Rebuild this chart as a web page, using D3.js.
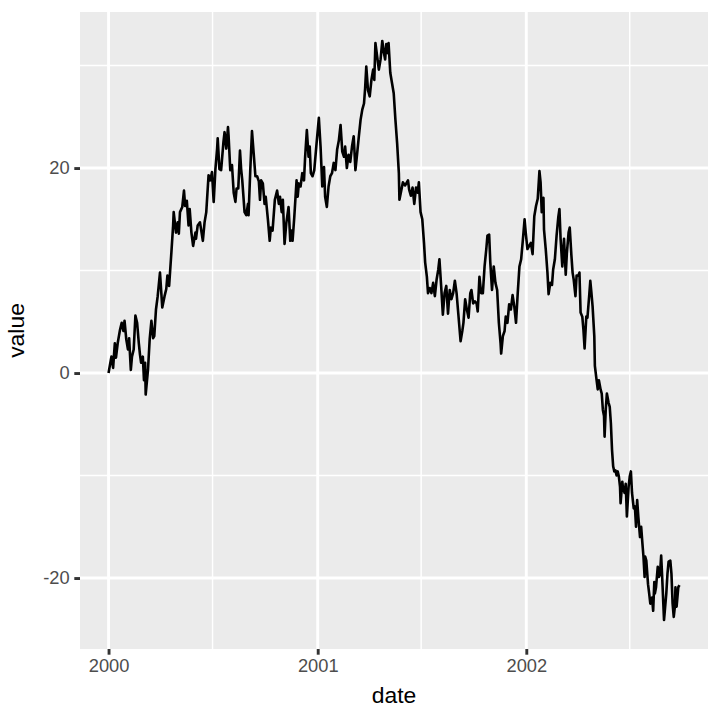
<!DOCTYPE html>
<html>
<head>
<meta charset="utf-8">
<script src="https://cdn.jsdelivr.net/npm/d3@7"></script>
<style>
  body { margin: 0; background: #ffffff; }
  text { font-family: "Liberation Sans", Arial, sans-serif; }
</style>
</head>
<body>
<div id="chart"></div>
<script>
// days since 2000-01-01
var days = [
  0, 5, 8, 11, 13, 16, 20, 23, 26, 28, 31, 34, 36, 39, 41, 44, 47, 50, 53, 55,
  57, 60, 62, 64, 65, 69, 72, 75, 78, 80, 83, 86, 90, 94, 98, 101, 103, 106, 110, 113,
  114, 118, 121, 123, 125, 129, 132, 134, 137, 140, 142, 145, 148, 152, 153, 156, 160, 165, 168, 171,
  175, 178, 181, 184, 187, 190, 191, 194, 197, 201, 203, 206, 209, 210, 213, 216, 219, 222, 224, 227,
  230, 232, 234, 238, 241, 244, 245, 248, 251, 254, 257, 260, 263, 265, 267, 270, 273, 275, 279, 282,
  284, 287, 291, 295, 298, 300, 303, 305, 308, 311, 315, 318, 320, 322, 325, 329, 331, 333, 336, 339,
  342, 344, 347, 350, 352, 354, 357, 360, 364, 368, 371, 374, 377, 379, 382, 385, 388, 391, 394, 397,
  400, 403, 406, 409, 412, 414, 417, 420, 423, 426, 429, 432, 435, 438, 441, 444, 447, 449, 451, 454,
  457, 460, 463, 465, 467, 470, 473, 476, 479, 482, 484, 486, 489, 490, 493, 496, 499, 502, 505, 508,
  509, 515, 519, 524, 526, 529, 532, 535, 538, 541, 543, 546, 549, 552, 554, 557, 559, 562, 565, 568,
  571, 574, 577, 579, 582, 585, 588, 591, 594, 597, 600, 603, 606, 609, 612, 616, 619, 621, 624, 627,
  630, 633, 635, 638, 641, 644, 646, 649, 652, 655, 658, 661, 663, 666, 668, 671, 674, 677, 680, 683,
  686, 687, 690, 693, 695, 698, 701, 704, 707, 710, 713, 716, 719, 722, 725, 728, 730, 733, 736, 739,
  742, 745, 748, 751, 754, 756, 758, 761, 762, 765, 768, 770, 773, 776, 778, 781, 784, 787, 789, 791,
  794, 797, 800, 802, 805, 807, 810, 812, 814, 817, 819, 822, 824, 826, 829, 831, 833, 836, 838, 841,
  843, 845, 847, 850, 851, 854, 856, 858, 861, 863, 865, 867, 868, 870, 872, 875, 877, 879, 881, 883,
  885, 887, 889, 891, 893, 895, 896, 899, 900, 903, 905, 907, 910, 912, 914, 916, 919, 921, 923, 925,
  927, 930, 932, 934, 936, 938, 939, 941, 944, 946, 948, 951, 953, 955, 956, 958, 961, 963, 965, 967,
  969, 972, 974, 976, 978, 980, 983, 985, 987, 989, 991, 992, 994, 997, 999
];

var values = [
  0, 1.6, 0.5, 2.9, 1.5, 2.9, 4.2, 4.9, 4.1, 5.1, 3.3, 2.3, 3.4, 0.3, 1.6, 2.3, 5.6, 4.9, 2.9, 1.8,
  1.0, 1.6, -0.7, 1.0, -2.1, 0.3, 3.3, 5.1, 3.4, 3.6, 6.2, 7.5, 9.8, 6.4, 7.5, 8.2, 9.5, 8.5, 11.8, 14.4,
  15.7, 13.7, 14.7, 13.6, 15.7, 16.2, 17.8, 16.3, 16.8, 14.4, 16, 13.7, 12.4, 13.7, 13.1, 14.4, 14.7, 12.9, 14.7, 15.7,
  19.3, 18.8, 19.6, 16.7, 19.9, 21.9, 22.9, 19.9, 19.8, 22.5, 23.5, 21.9, 24, 23.2, 19.8, 20.3, 17.6, 16.7, 18, 18,
  21.7, 19.9, 18.8, 15.7, 15.4, 16.5, 15.4, 19.8, 23.6, 21.4, 19.2, 19.2, 18.7, 16.9, 18.8, 18.5, 16.5, 17.2, 14.9, 12.9,
  14.2, 13.9, 16.9, 17.8, 16.5, 17.2, 15.7, 16.9, 12.6, 14.6, 16.2, 12.9, 13.9, 12.9, 15.2, 18.8, 17.2, 18.5, 18.2, 19.5,
  18.8, 21.1, 23.7, 21.1, 22.1, 19.5, 19.2, 19.8, 22.4, 24.9, 22.1, 18.2, 20.1, 17.2, 16.2, 18.2, 19.2, 19.5, 20.5, 19.8,
  21.8, 22.7, 24.2, 21.6, 21.1, 22.1, 20, 21.3, 20.6, 22.1, 23.1, 19.8, 21.4, 23.1, 24.7, 25.7, 26.3, 27.8, 29.9, 27.6,
  27, 28.6, 29.6, 28.6, 32.2, 30.9, 29.6, 30.6, 32.4, 31.2, 30.6, 32.1, 31.2, 32.2, 29.3, 28.3, 27.3, 24.7, 22.4, 19.5,
  16.9, 18.6, 18.3, 18.8, 17.9, 17.3, 18.1, 16.5, 18.1, 17.6, 18.6, 15.7, 15, 12.7, 10.8, 9.4, 7.8, 8.3, 7.8, 8.8,
  7.5, 9.1, 10.1, 11.1, 8.5, 5.7, 7.8, 8.5, 5.8, 8.1, 7.2, 7.8, 9, 7.8, 5.8, 3.1, 4.1, 4.9, 7.2, 6.2,
  5.4, 7.8, 8.1, 6.8, 7, 6.8, 6, 9.4, 7.8, 7.8, 10.4, 12.1, 13.4, 13.5, 10.8, 8.1, 10.4, 8.8, 8.1, 4.9,
  2.9, 1.9, 3.6, 4.1, 5.5, 4.9, 6.7, 6.2, 7.6, 6.5, 4.9, 7.8, 10.4, 11.1, 13, 15, 13.7, 12.1, 12.4, 12.7,
  11.6, 15.3, 16.3, 17, 19.7, 18.6, 15.7, 17.1, 14, 12.1, 9.8, 7.7, 8.8, 8.6, 10.1, 11.1, 13.4, 15.2, 16, 13.1,
  10.4, 13.1, 9.6, 11.7, 13.7, 14.2, 11.4, 9.8, 9.1, 7.5, 9.5, 9.5, 9.8, 5.9, 5.5, 4.2, 2.4, 5.5, 5.4, 7.5,
  9, 7.8, 6.5, 3.6, 0.7, -0.7, -1.6, -0.7, -1.6, -2, -3.6, -4.2, -6.2, -3.6, -2, -2.9, -3.3, -4.9, -7.5, -9.1,
  -9.6, -9.5, -10, -9.6, -10.1, -11.1, -12.7, -10.6, -11.1, -11.7, -10.8, -14, -11.1, -10.1, -9.6, -11.7, -13.2, -13, -15, -12.4,
  -14, -16, -15, -16.5, -17.9, -19.9, -17.9, -18.3, -20.6, -21.5, -22.5, -21.9, -23.2, -20.4, -21.5, -20.9, -18.9, -19.9, -19.6, -17.8,
  -20.2, -24.1, -22.8, -21.5, -19.6, -18.4, -18.3, -19.6, -22.5, -23.8, -22.8, -20.9, -22.8, -20.9, -20.7
];

// axis breaks
var xTickYears = [2000, 2001, 2002];
var xMinorYears = [2000, 2001, 2002];   // 1 July of each year
var yTicks = [-20, 0, 20];
var yMinor = [-30, -10, 10, 30];

// svg area and panel
var svgWidth = 720;
var svgHeight = 720;
var panel = { left: 80, right: 708, top: 12, bottom: 649 };

var svg = d3.select("#chart")
  .append("svg")
  .attr("width", svgWidth)
  .attr("height", svgHeight);

svg.append("rect")
  .attr("width", svgWidth)
  .attr("height", svgHeight)
  .attr("fill", "#ffffff");

// build the series
var data = days.map(function(d, i) {
  return { date: new Date(Date.UTC(2000, 0, 1 + d)), value: values[i] };
});

// scales with ggplot's 5% expansion
var xExtent = d3.extent(data, d => d.date);
var xPad = (xExtent[1] - xExtent[0]) * 0.05;
var xScale = d3.scaleUtc()
  .domain([new Date(+xExtent[0] - xPad), new Date(+xExtent[1] + xPad)])
  .range([panel.left, panel.right]);

var yExtent = d3.extent(data, d => d.value);
var yPad = (yExtent[1] - yExtent[0]) * 0.05;
var yScale = d3.scaleLinear()
  .domain([yExtent[0] - yPad, yExtent[1] + yPad])
  .range([panel.bottom, panel.top]);

var yearDate = y => new Date(Date.UTC(y, 0, 1));
var julyDate = y => new Date(Date.UTC(y, 6, 1));

// panel background
svg.append("rect")
  .attr("x", panel.left)
  .attr("y", panel.top)
  .attr("width", panel.right - panel.left)
  .attr("height", panel.bottom - panel.top)
  .attr("fill", "#EBEBEB");

var grid = svg.append("g");

// minor grid lines
grid.selectAll(".xminor")
  .data(xMinorYears.map(julyDate).filter(d => xScale(d) > panel.left && xScale(d) < panel.right))
  .enter()
  .append("line")
  .attr("x1", d => xScale(d))
  .attr("x2", d => xScale(d))
  .attr("y1", panel.top)
  .attr("y2", panel.bottom)
  .attr("stroke", "#ffffff")
  .attr("stroke-width", 1.45);

grid.selectAll(".yminor")
  .data(yMinor.filter(v => yScale(v) > panel.top && yScale(v) < panel.bottom))
  .enter()
  .append("line")
  .attr("x1", panel.left)
  .attr("x2", panel.right)
  .attr("y1", d => yScale(d))
  .attr("y2", d => yScale(d))
  .attr("stroke", "#ffffff")
  .attr("stroke-width", 1.45);

// major grid lines
grid.selectAll(".xmajor")
  .data(xTickYears.map(yearDate))
  .enter()
  .append("line")
  .attr("x1", d => xScale(d))
  .attr("x2", d => xScale(d))
  .attr("y1", panel.top)
  .attr("y2", panel.bottom)
  .attr("stroke", "#ffffff")
  .attr("stroke-width", 2.9);

grid.selectAll(".ymajor")
  .data(yTicks)
  .enter()
  .append("line")
  .attr("x1", panel.left)
  .attr("x2", panel.right)
  .attr("y1", d => yScale(d))
  .attr("y2", d => yScale(d))
  .attr("stroke", "#ffffff")
  .attr("stroke-width", 2.9);

// the line
var line = d3.line()
  .x(d => xScale(d.date))
  .y(d => yScale(d.value));

svg.append("path")
  .datum(data)
  .attr("d", line)
  .attr("fill", "none")
  .attr("stroke", "#000000")
  .attr("stroke-width", 2.6)
  .attr("stroke-linejoin", "round");

// x axis
var bottomAxis = d3.axisBottom(xScale)
  .tickValues(xTickYears.map(yearDate))
  .tickFormat(d3.utcFormat("%Y"))
  .tickSize(5.7)
  .tickPadding(4.6);

var xAxis = svg.append("g")
  .attr("transform", `translate(0, ${panel.bottom})`)
  .call(bottomAxis);

// y axis (plain hyphen for negatives, like R)
var leftAxis = d3.axisLeft(yScale)
  .tickValues(yTicks)
  .tickFormat(d => String(d))
  .tickSize(5.7)
  .tickPadding(4.6);

var yAxis = svg.append("g")
  .attr("transform", `translate(${panel.left}, 0)`)
  .call(leftAxis);

[xAxis, yAxis].forEach(function(ax) {
  ax.select(".domain").remove();
  ax.selectAll(".tick line")
    .attr("stroke", "#333333")
    .attr("stroke-width", 2.9);
  ax.selectAll(".tick text")
    .attr("fill", "#4D4D4D")
    .style("font-size", "18.3px")
    .style("font-family", "'Liberation Sans', Arial, sans-serif");
});

// axis titles
svg.append("text")
  .attr("x", (panel.left + panel.right) / 2)
  .attr("y", 702.5)
  .attr("text-anchor", "middle")
  .style("font-size", "22.9px")
  .attr("fill", "#000000")
  .text("date");

svg.append("text")
  .attr("transform", `translate(23.5, ${(panel.top + panel.bottom) / 2}) rotate(-90)`)
  .attr("text-anchor", "middle")
  .style("font-size", "22.9px")
  .attr("fill", "#000000")
  .text("value");
</script>
</body>
</html>
